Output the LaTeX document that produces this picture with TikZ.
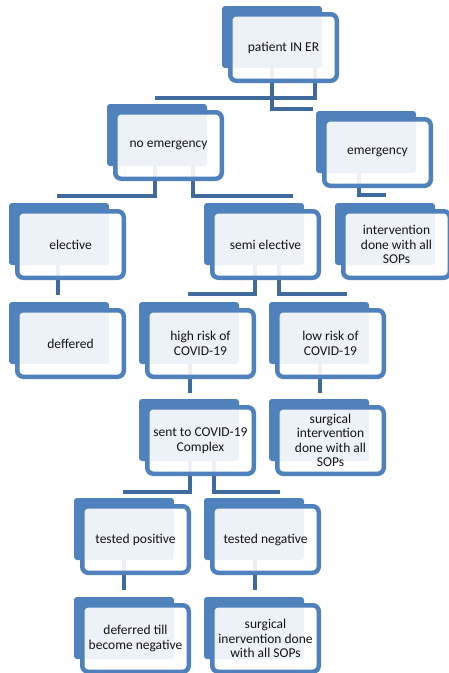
\documentclass[tikz,border=0pt]{standalone}
\usepackage{fontspec}
\setmainfont{Carlito}
\usetikzlibrary{backgrounds}
\definecolor{boxblue}{RGB}{79,129,189}
\definecolor{linkblue}{RGB}{64,106,158}
\definecolor{inktext}{RGB}{20,20,20}
\tikzset{
  card/.style={draw=boxblue, line width=4.5pt, rounded corners=6pt, fill=white,
    fill opacity=0.9, text opacity=1, text=inktext, minimum width=106.5pt,
    minimum height=66.5pt, inner sep=1pt, align=center,
    font=\fontsize{13.5}{14.5}\selectfont},
  backcard/.style={fill=boxblue, rounded corners=3pt},
  link/.style={draw=linkblue, line width=4pt},
}
\begin{document}
\begin{tikzpicture}[x=1pt, y=-1pt, node distance=99pt]
\useasboundingbox (0,0) rectangle (448,673);
% boxes
\node[card] (er) at (283.5,47.5) {patient IN ER};
\node[card] (noem) at (168.5,145.5) {no emergency};
\node[card] (em) at (377.5,152.5) {emergency};
\node[card] (elective) at (70.5,244.5) {elective};
\node[card] (semi) at (265.5,244.5) {semi elective};
\node[card] (interv) at (396.5,244.5) {intervention\\done with all\\SOPs};
\node[card] (deffered) [below of=elective] {deffered};
\node[card] (high) at (200.5,343.5) {high risk of\\COVID-19};
\node[card] (low) at (330.5,343.5) {low risk of\\COVID-19};
\node[card] (sent) at (200.5,440.5) {sent to COVID-19\\Complex};
\node[card] (surgery) at (330.5,440.5) {surgical\\intervention\\done with all\\SOPs};
\node[card] (pos) at (135.5,539.5) {tested positive};
\node[card] (neg) at (265.5,539.5) {tested negative};
\node[card] (till) [below of=pos] {deferred till\\become negative};
\node[card] (surgtwo) [below of=neg] {surgical\\inervention done\\with all SOPs};
% bus ends
\coordinate (erem) at (313,109);
\coordinate (ernoem) at (155,98);
\coordinate (noembus-w) at (57,196);
\coordinate (noembus-e) at (293,196);
\coordinate (embus) at (386,195);
\coordinate (semibus-w) at (188,294);
\coordinate (semibus-e) at (347,294);
\coordinate (sentbus-w) at (123,492);
\coordinate (sentbus-e) at (280,492);
\begin{scope}[on background layer]
  \fill[white] (0,0) rectangle (448,673);
  \foreach \n in {er,noem,em,elective,semi,interv,deffered,high,low,sent,surgery,pos,neg,till,surgtwo}
    \fill[backcard] ([shift={(-6,-6)}]\n.north west) rectangle ++(100,62);
  % connectors
  \draw[link] ([shift={(44,-15)}]er.south west) |- (erem);
  \draw[link] ([shift={(87,-15)}]er.south west) |- (ernoem);
  \draw[link] ([shift={(42,-15)}]noem.south west) |- (noembus-w);
  \draw[link] ([shift={(80,-15)}]noem.south west) |- (noembus-e);
  \draw[link] ([shift={(37,-15)}]em.south west) |- (embus);
  \draw[link] ([shift={(43,-15)}]elective.south west) -- ([shift={(43,-13)}]deffered.north west);
  \draw[link] ([shift={(45,-15)}]semi.south west) |- (semibus-w);
  \draw[link] ([shift={(69,-15)}]semi.south west) |- (semibus-e);
  \draw[link] ([shift={(45,-15)}]high.south west) -- ([shift={(45,-12)}]sent.north west);
  \draw[link] ([shift={(45,-15)}]low.south west) -- ([shift={(45,-12)}]surgery.north west);
  \draw[link] ([shift={(45,-15)}]sent.south west) |- (sentbus-w);
  \draw[link] ([shift={(69,-15)}]sent.south west) |- (sentbus-e);
  \draw[link] ([shift={(44,-15)}]pos.south west) -- ([shift={(44,-13)}]till.north west);
  \draw[link] ([shift={(45,-15)}]neg.south west) -- ([shift={(45,-13)}]surgtwo.north west);
\end{scope}
\end{tikzpicture}
\end{document}
